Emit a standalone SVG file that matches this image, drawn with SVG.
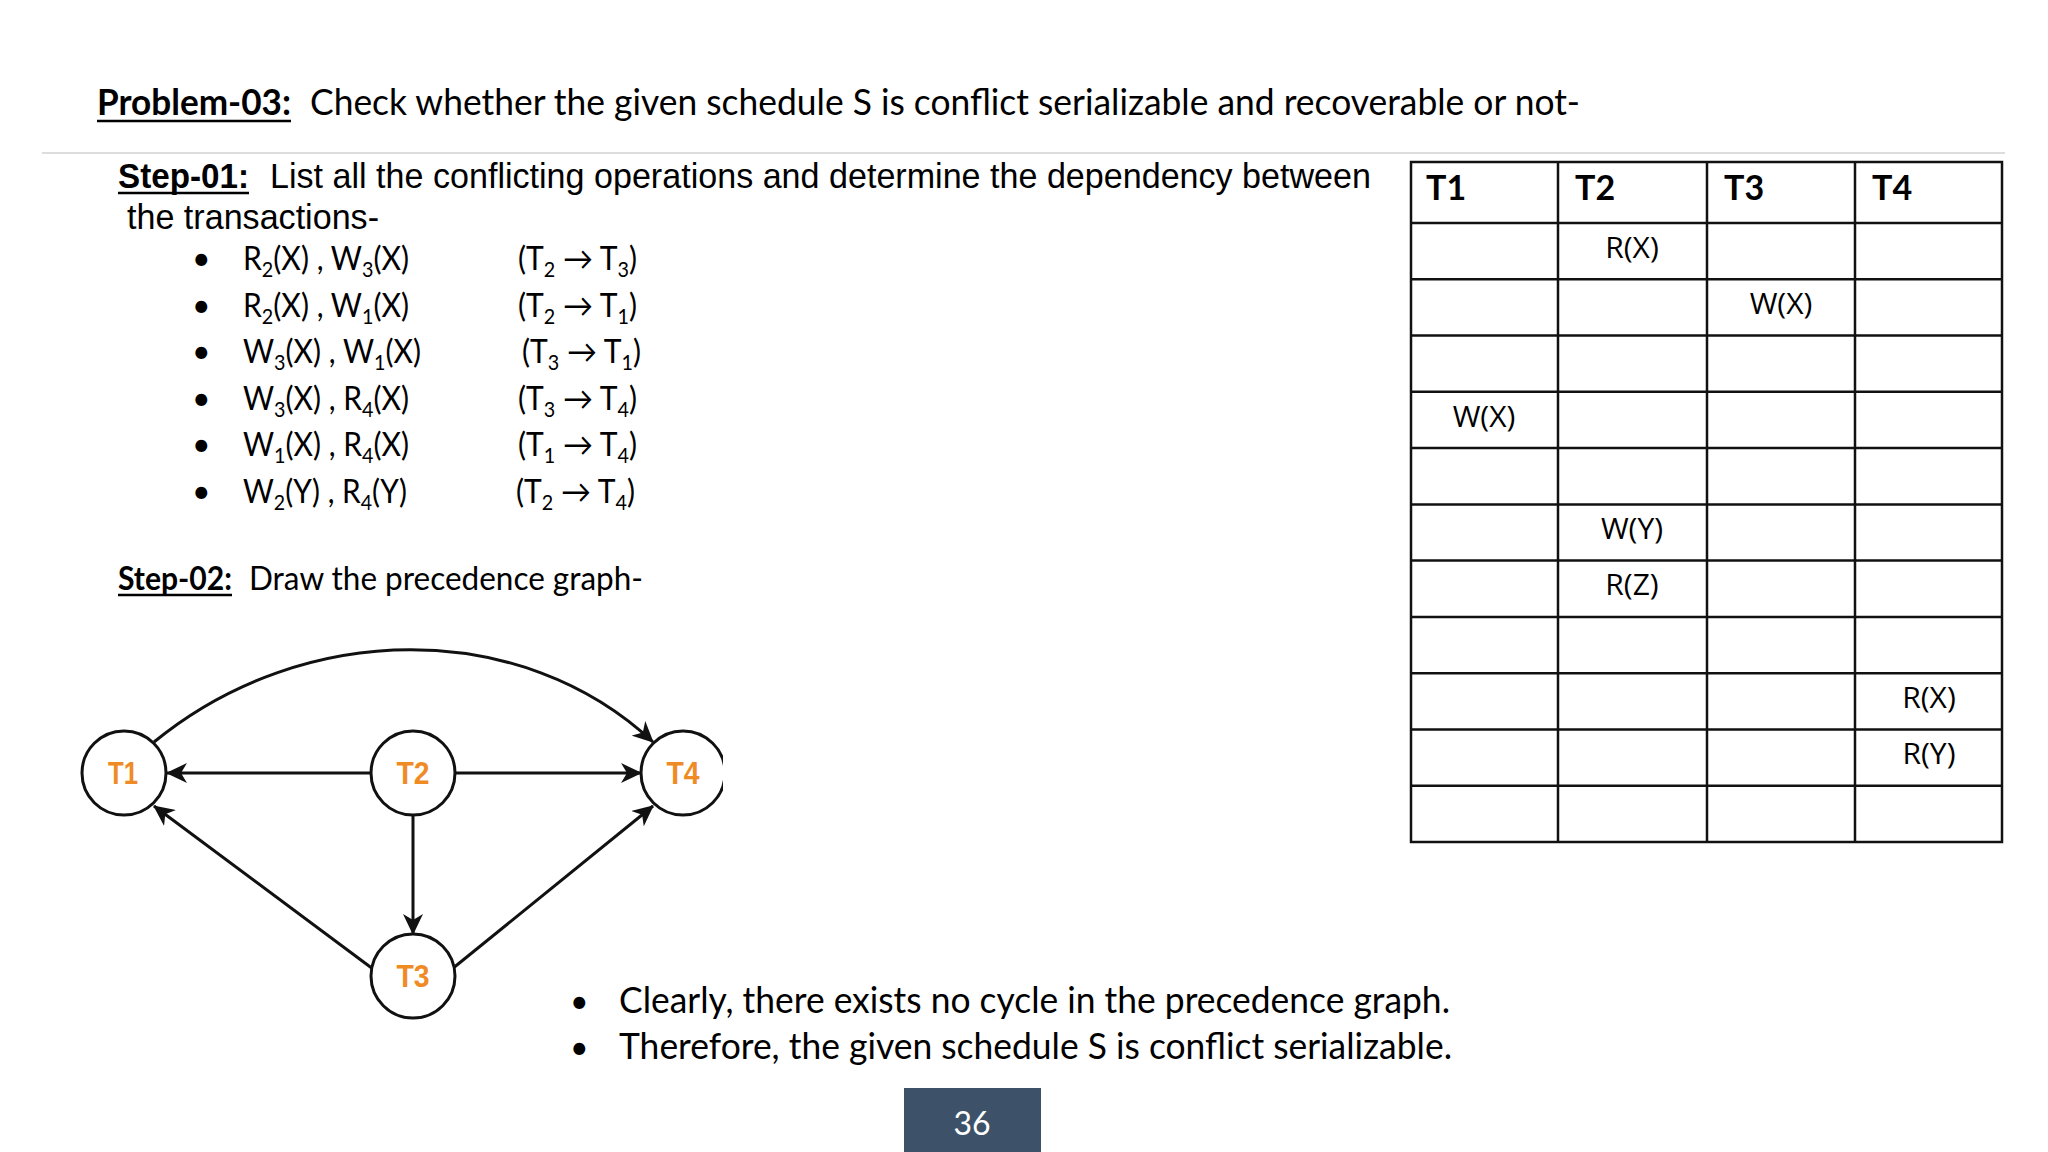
<svg xmlns="http://www.w3.org/2000/svg" width="2048" height="1152" viewBox="0 0 2048 1152">
<style>
.cal{font-family:Lato,"Open Sans","Liberation Sans",sans-serif;fill:#000}
.ari{font-family:"Liberation Sans",Arial,sans-serif;fill:#000}
.b{font-weight:bold}
.sub{font-size:21px}
.lst{font-size:32px}
.cell{font-family:"Open Sans","Liberation Sans",sans-serif;font-size:30px;fill:#000;text-anchor:middle}
.hdr{font-family:Lato,"Liberation Sans",sans-serif;font-size:34px;font-weight:bold;fill:#000}
.node circle{fill:#fff;stroke:#111;stroke-width:3}
.node text{font-family:"Liberation Sans",Arial,sans-serif;font-weight:bold;font-size:31px;fill:#F08A24;text-anchor:middle}
.edge{fill:none;stroke:#111;stroke-width:3;marker-end:url(#arr)}
.grid line{stroke:#111;stroke-width:2.5}
</style>
<defs>
<marker id="arr" viewBox="0 0 21 20" refX="20" refY="10" markerWidth="21" markerHeight="20" markerUnits="userSpaceOnUse" orient="auto">
<path d="M0,0 L21,10 L0,20 L6,10 Z" fill="#111"/>
</marker>
<clipPath id="gclip"><rect x="0" y="600" width="723" height="450"/></clipPath>
</defs>
<rect width="2048" height="1152" fill="#fff"/>

<g id="title">
<text class="cal b" x="97" y="115" font-size="37" textLength="194" lengthAdjust="spacingAndGlyphs">Problem-03:</text>
<line x1="97" y1="121" x2="291" y2="121" stroke="#000" stroke-width="2.5"/>
<text class="cal" x="310" y="115" font-size="37" textLength="1270" lengthAdjust="spacingAndGlyphs">Check whether the given schedule S is conflict serializable and recoverable or not-</text>
<line x1="42" y1="153" x2="2005" y2="153" stroke="#dddddd" stroke-width="2"/>
</g>

<g id="step1">
<text class="ari b" x="118" y="188" font-size="35" textLength="131" lengthAdjust="spacingAndGlyphs">Step-01:</text>
<line x1="118" y1="193" x2="249" y2="193" stroke="#000" stroke-width="2.5"/>
<text class="ari" x="270" y="188" font-size="35" textLength="1101" lengthAdjust="spacingAndGlyphs">List all the conflicting operations and determine the dependency between</text>
<text class="ari" x="127" y="229" font-size="35" textLength="252" lengthAdjust="spacingAndGlyphs">the transactions-</text>
</g>

<g id="list" class="cal lst">
<text x="192" y="270">•</text>
<text x="243" y="270" textLength="166" lengthAdjust="spacingAndGlyphs">R<tspan class="sub" dy="7">2</tspan><tspan dy="-7">(X) , W</tspan><tspan class="sub" dy="7">3</tspan><tspan dy="-7">(X)</tspan></text>
<text x="518" y="270" textLength="119" lengthAdjust="spacingAndGlyphs">(T<tspan class="sub" dy="7">2</tspan><tspan dy="-7"> → T</tspan><tspan class="sub" dy="7">3</tspan><tspan dy="-7">)</tspan></text>

<text x="192" y="317">•</text>
<text x="243" y="317" textLength="166" lengthAdjust="spacingAndGlyphs">R<tspan class="sub" dy="7">2</tspan><tspan dy="-7">(X) , W</tspan><tspan class="sub" dy="7">1</tspan><tspan dy="-7">(X)</tspan></text>
<text x="518" y="317" textLength="119" lengthAdjust="spacingAndGlyphs">(T<tspan class="sub" dy="7">2</tspan><tspan dy="-7"> → T</tspan><tspan class="sub" dy="7">1</tspan><tspan dy="-7">)</tspan></text>

<text x="192" y="363">•</text>
<text x="243" y="363" textLength="178" lengthAdjust="spacingAndGlyphs">W<tspan class="sub" dy="7">3</tspan><tspan dy="-7">(X) , W</tspan><tspan class="sub" dy="7">1</tspan><tspan dy="-7">(X)</tspan></text>
<text x="522" y="363" textLength="119" lengthAdjust="spacingAndGlyphs">(T<tspan class="sub" dy="7">3</tspan><tspan dy="-7"> → T</tspan><tspan class="sub" dy="7">1</tspan><tspan dy="-7">)</tspan></text>

<text x="192" y="410">•</text>
<text x="243" y="410" textLength="166" lengthAdjust="spacingAndGlyphs">W<tspan class="sub" dy="7">3</tspan><tspan dy="-7">(X) , R</tspan><tspan class="sub" dy="7">4</tspan><tspan dy="-7">(X)</tspan></text>
<text x="518" y="410" textLength="119" lengthAdjust="spacingAndGlyphs">(T<tspan class="sub" dy="7">3</tspan><tspan dy="-7"> → T</tspan><tspan class="sub" dy="7">4</tspan><tspan dy="-7">)</tspan></text>

<text x="192" y="456">•</text>
<text x="243" y="456" textLength="166" lengthAdjust="spacingAndGlyphs">W<tspan class="sub" dy="7">1</tspan><tspan dy="-7">(X) , R</tspan><tspan class="sub" dy="7">4</tspan><tspan dy="-7">(X)</tspan></text>
<text x="518" y="456" textLength="119" lengthAdjust="spacingAndGlyphs">(T<tspan class="sub" dy="7">1</tspan><tspan dy="-7"> → T</tspan><tspan class="sub" dy="7">4</tspan><tspan dy="-7">)</tspan></text>

<text x="192" y="503">•</text>
<text x="243" y="503" textLength="164" lengthAdjust="spacingAndGlyphs">W<tspan class="sub" dy="7">2</tspan><tspan dy="-7">(Y) , R</tspan><tspan class="sub" dy="7">4</tspan><tspan dy="-7">(Y)</tspan></text>
<text x="516" y="503" textLength="119" lengthAdjust="spacingAndGlyphs">(T<tspan class="sub" dy="7">2</tspan><tspan dy="-7"> → T</tspan><tspan class="sub" dy="7">4</tspan><tspan dy="-7">)</tspan></text>
</g>

<g id="step2">
<text class="cal b" x="118" y="590" font-size="32" textLength="114" lengthAdjust="spacingAndGlyphs">Step-02:</text>
<line x1="118" y1="595" x2="232" y2="595" stroke="#000" stroke-width="2.5"/>
<text class="cal" x="249" y="590" font-size="32" textLength="394" lengthAdjust="spacingAndGlyphs">Draw the precedence graph-</text>
</g>

<g id="graph" clip-path="url(#gclip)">
<g id="connectors">
<path class="edge" d="M154,742 C304,619 522,619 653,742"/>
<line class="edge" x1="371" y1="773" x2="167" y2="773"/>
<line class="edge" x1="455" y1="773" x2="641" y2="773"/>
<line class="edge" x1="413" y1="815" x2="413" y2="934"/>
<line class="edge" x1="373" y1="969" x2="154" y2="806"/>
<line class="edge" x1="452" y1="969" x2="653" y2="806"/>
</g>
<g id="node-T1" class="node"><circle cx="124" cy="773" r="42"/><text x="123" y="784" textLength="30" lengthAdjust="spacingAndGlyphs">T1</text></g>
<g id="node-T2" class="node"><circle cx="413" cy="773" r="42"/><text x="413" y="784" textLength="33" lengthAdjust="spacingAndGlyphs">T2</text></g>
<g id="node-T3" class="node"><circle cx="413" cy="976" r="42"/><text x="413" y="987" textLength="33" lengthAdjust="spacingAndGlyphs">T3</text></g>
<g id="node-T4" class="node"><circle cx="683" cy="773" r="42"/><text x="683" y="784" textLength="33" lengthAdjust="spacingAndGlyphs">T4</text></g>
</g>

<g id="conclusion" class="cal">
<text x="570" y="1013" font-size="32">•</text>
<text x="619" y="1013" font-size="36" textLength="831" lengthAdjust="spacingAndGlyphs">Clearly, there exists no cycle in the precedence graph.</text>
<text x="570" y="1059" font-size="32">•</text>
<text x="619" y="1059" font-size="36" textLength="833" lengthAdjust="spacingAndGlyphs">Therefore, the given schedule S is conflict serializable.</text>
</g>

<g id="page-number">
<rect x="904" y="1088" width="137" height="64" fill="#3d5268"/>
<text x="972" y="1135" font-family="Lato,'Open Sans',sans-serif" font-size="32" fill="#fff" text-anchor="middle">36</text>
</g>

<g id="schedule-table">
<rect x="1411" y="162" width="591" height="680" fill="#fff" stroke="#111" stroke-width="2.5"/>
<g class="grid">
<line x1="1558" y1="162" x2="1558" y2="842"/>
<line x1="1707" y1="162" x2="1707" y2="842"/>
<line x1="1855" y1="162" x2="1855" y2="842"/>
<line x1="1411" y1="223" x2="2002" y2="223"/>
<line x1="1411" y1="279.3" x2="2002" y2="279.3"/>
<line x1="1411" y1="335.5" x2="2002" y2="335.5"/>
<line x1="1411" y1="391.8" x2="2002" y2="391.8"/>
<line x1="1411" y1="448.1" x2="2002" y2="448.1"/>
<line x1="1411" y1="504.4" x2="2002" y2="504.4"/>
<line x1="1411" y1="560.6" x2="2002" y2="560.6"/>
<line x1="1411" y1="616.9" x2="2002" y2="616.9"/>
<line x1="1411" y1="673.2" x2="2002" y2="673.2"/>
<line x1="1411" y1="729.5" x2="2002" y2="729.5"/>
<line x1="1411" y1="785.7" x2="2002" y2="785.7"/>
</g>
<text class="hdr" x="1426" y="200">T1</text>
<text class="hdr" x="1575" y="200">T2</text>
<text class="hdr" x="1724" y="200">T3</text>
<text class="hdr" x="1872" y="200">T4</text>
<text class="cell" x="1632" y="258">R(X)</text>
<text class="cell" x="1781" y="314">W(X)</text>
<text class="cell" x="1484" y="427">W(X)</text>
<text class="cell" x="1632" y="539">W(Y)</text>
<text class="cell" x="1632" y="595">R(Z)</text>
<text class="cell" x="1929" y="708">R(X)</text>
<text class="cell" x="1929" y="764">R(Y)</text>
</g>
</svg>
